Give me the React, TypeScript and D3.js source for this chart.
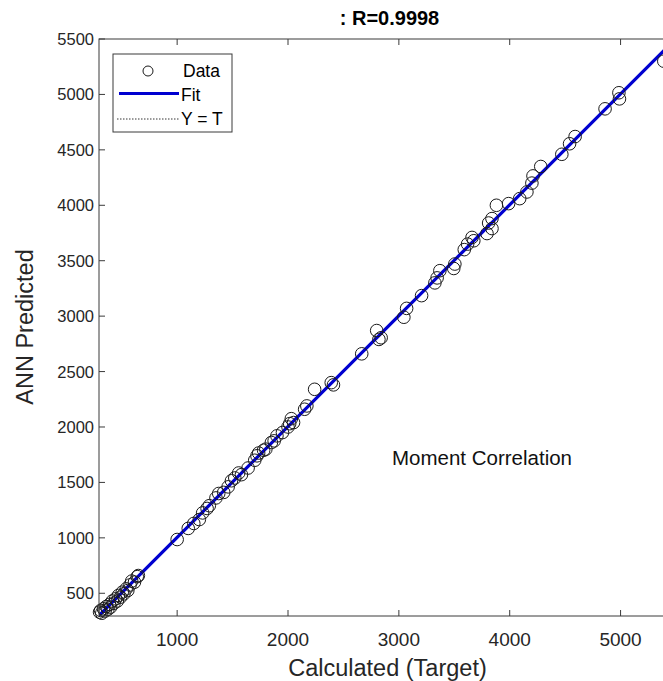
import React from "react";
import * as d3 from "d3";

const targets = [
  300, 310, 320, 335, 350, 360, 375, 390, 400, 415, 430, 445, 460, 470, 490, 505, 520, 540, 555, 575, 590, 615, 640, 650,
  1000, 1100, 1150, 1200, 1230, 1270, 1290, 1350, 1375, 1420, 1460, 1490, 1520, 1555, 1580, 1640, 1700, 1720, 1735, 1780,
  1800, 1850, 1875, 1900, 1950, 2000, 2015, 2030, 2050, 2150, 2170, 2240, 2390, 2410, 2665, 2800, 2820, 2840, 3045, 3070,
  3205, 3325, 3345, 3370, 3495, 3505, 3590, 3620, 3676, 3660, 3795, 3810, 3840, 3840, 3880, 3990, 4090, 4155, 4200, 4210,
  4280, 4470, 4540, 4590, 4860, 4985, 4990, 5390,
];
const outputs = [
  330, 345, 320, 360, 340, 380, 355, 400, 375, 430, 410, 450, 430, 480, 465, 510, 495, 540, 525, 575, 610, 600, 650, 660,
  985, 1085, 1130, 1165, 1225, 1265, 1290, 1360, 1400, 1410, 1460, 1515, 1540, 1585, 1570, 1630, 1700, 1740, 1765, 1790,
  1800, 1860, 1875, 1920, 1950, 2000, 2030, 2075, 2040, 2160, 2190, 2340, 2400, 2380, 2660, 2870, 2790, 2805, 2990, 3070,
  3185, 3300, 3345, 3410, 3430, 3470, 3600, 3650, 3680, 3710, 3745, 3840, 3790, 3880, 4000, 4015, 4060, 4120, 4200, 4265,
  4350, 4460, 4555, 4620, 4870, 5015, 4960, 5300,
];
const axisLimits = [295, 5500];
const xTicks = [1000, 2000, 3000, 4000, 5000];
const yTicks = [500, 1000, 1500, 2000, 2500, 3000, 3500, 4000, 4500, 5000, 5500];
const fitSlope = 1.0;
const fitIntercept = 4;
const titleText = ": R=0.9998";
const xLabel = "Calculated (Target)";
const yLabel = "ANN Predicted";
const annotation = "Moment Correlation";
const legendLabels = ["Data", "Fit", "Y = T"];

const W = 663;
const H = 681;
const left = 99;
const top = 39;
const side = 577;
const font = "'Liberation Sans', Arial, Helvetica, sans-serif";
const axisColor = "#3a3a3a";
const textColor = "#262626";
const fitColor = "#0000d0";

export default function App() {
  const x = d3.scaleLinear().domain(axisLimits).range([left, left + side]);
  const y = d3.scaleLinear().domain(axisLimits).range([top + side, top]);
  const bottom = top + side;
  const right = left + side;
  const tickLen = 6;
  const fitLine = d3.line<number>()
    .x((d) => x(d))
    .y((d) => y(fitSlope * d + fitIntercept));
  const idLine = d3.line<number>().x((d) => x(d)).y((d) => y(d));
  const points = targets.map((t, i) => ({ t, o: outputs[i] }));

  return (
    <svg width={W} height={H} style={{ position: "absolute", left: 0, top: 0, background: "#fff" }} fontFamily={font}>
      <defs>
        <clipPath id="plotclip">
          <rect x={left} y={top} width={side} height={side} />
        </clipPath>
      </defs>
      <rect x={0} y={0} width={W} height={H} fill="#fff" />
      <g clipPath="url(#plotclip)">
        <path d={idLine(axisLimits) || ""} stroke="#000" strokeWidth={1} strokeDasharray="1.5,1.5" fill="none" />
        <path d={fitLine(axisLimits) || ""} stroke={fitColor} strokeWidth={3.2} fill="none" />
      </g>
      <g>
        {points.map((p, i) => (
          <circle key={i} cx={x(p.t)} cy={y(p.o)} r={6.3} fill="none" stroke="#1a1a1a" strokeWidth={1} />
        ))}
      </g>
      <rect x={left} y={top} width={side} height={side} fill="none" stroke={axisColor} strokeWidth={1} />
      {xTicks.map((t) => (
        <g key={"x" + t}>
          <line x1={x(t)} x2={x(t)} y1={bottom} y2={bottom - tickLen} stroke={axisColor} />
          <line x1={x(t)} x2={x(t)} y1={top} y2={top + tickLen} stroke={axisColor} />
          <text x={x(t)} y={bottom + 30} textAnchor="middle" fontSize={19} fill={textColor}>
            {d3.format("d")(t)}
          </text>
        </g>
      ))}
      {yTicks.map((t) => (
        <g key={"y" + t}>
          <line x1={left} x2={left + tickLen} y1={y(t)} y2={y(t)} stroke={axisColor} />
          <line x1={right} x2={right - tickLen} y1={y(t)} y2={y(t)} stroke={axisColor} />
          <text x={left - 5} y={y(t) + 6} textAnchor="end" fontSize={16.5} fill={textColor}>
            {d3.format("d")(t)}
          </text>
        </g>
      ))}
      <text x={left + side / 2 + 2} y={25} textAnchor="middle" fontSize={20} fontWeight="bold" fill="#000">
        {titleText}
      </text>
      <text x={left + side / 2} y={676} textAnchor="middle" fontSize={23.5} fill={textColor}>
        {xLabel}
      </text>
      <text transform={`translate(33,${327}) rotate(-90)`} textAnchor="middle" fontSize={23.5} fill={textColor}>
        {yLabel}
      </text>
      <text x={392} y={465} fontSize={20.5} fill="#111">
        {annotation}
      </text>
      <g>
        <rect x={113} y={54} width={119} height={78} fill="#fff" stroke={axisColor} strokeWidth={1} />
        <circle cx={148} cy={71} r={5} fill="none" stroke="#1a1a1a" strokeWidth={1} />
        <text x={183} y={77} fontSize={17.5} fill="#000">{legendLabels[0]}</text>
        <line x1={119} x2={179} y1={93.5} y2={93.5} stroke={fitColor} strokeWidth={3.2} />
        <text x={181} y={101} fontSize={17.5} fill="#000">{legendLabels[1]}</text>
        <line x1={117} x2={179} y1={119} y2={119} stroke="#000" strokeWidth={0.8} strokeDasharray="1.5,1.5" />
        <text x={181} y={125} fontSize={17.5} fill="#000">{legendLabels[2]}</text>
      </g>
    </svg>
  );
}
